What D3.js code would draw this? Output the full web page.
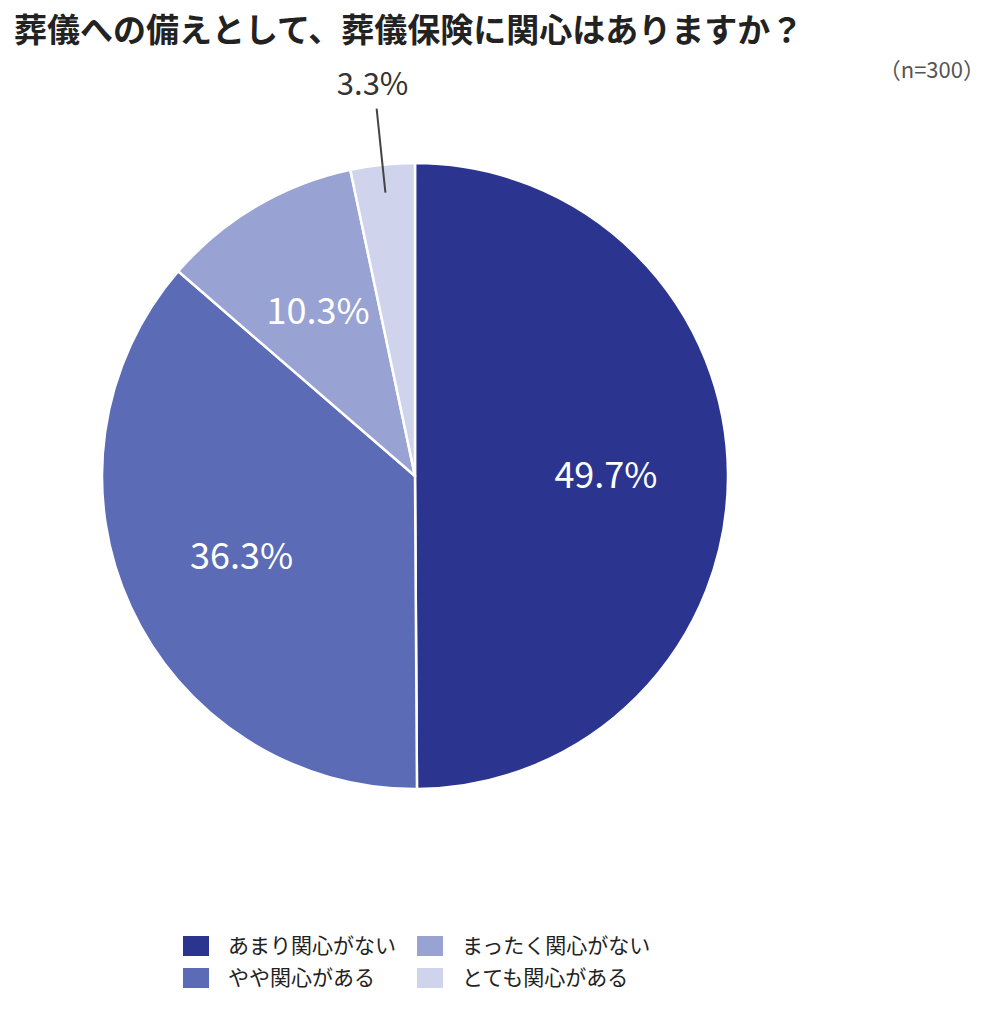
<!DOCTYPE html>
<html>
<head>
<meta charset="utf-8">
<script src="https://cdn.jsdelivr.net/npm/d3@7"></script>
<style>
  body { margin: 0; background: #fff; }
  svg { font-family: 'Noto Sans CJK JP', 'Noto Sans', sans-serif; }
</style>
</head>
<body>
<div id="chart"></div>
<script>
// data
const categories = ['あまり関心がない', 'やや関心がある', 'まったく関心がない', 'とても関心がある'];
const values = [49.7, 36.3, 10.3, 3.3];
const colors = ['#2b3590', '#5b6bb5', '#98a3d3', '#cfd3ec'];
const title = '葬儀への備えとして、葬儀保険に関心はありますか？';
const note = '（n=300）';

const width = 1000;
const height = 1016;
const cx = 415;
const cy = 476;
const radius = 313;

const svg = d3.select('#chart')
  .append('svg')
  .attr('width', width)
  .attr('height', height);

svg.append('text')
  .attr('x', 14)
  .attr('y', 42)
  .attr('font-size', 33)
  .attr('font-weight', 'bold')
  .attr('fill', '#222')
  .text(title);

svg.append('text')
  .attr('x', 985)
  .attr('y', 78)
  .attr('text-anchor', 'end')
  .attr('font-size', 22)
  .attr('fill', '#555')
  .text(note);

const color = d3.scaleOrdinal().domain(categories).range(colors);

const pie = d3.pie().sort(null).value((d) => d.value);
const arcs = pie(categories.map((c, i) => ({ name: c, value: values[i] })));

const arc = d3.arc().innerRadius(0).outerRadius(radius);

const g = svg.append('g').attr('transform', `translate(${cx},${cy})`);

g.selectAll('path')
  .data(arcs)
  .join('path')
  .attr('d', arc)
  .attr('fill', (d) => color(d.data.name))
  .attr('stroke', '#fff')
  .attr('stroke-width', 2.5)
  .attr('stroke-linejoin', 'round');

// inside labels (all but the small slice)
const labelArc = d3.arc().innerRadius(radius * 0.61).outerRadius(radius * 0.61);
const inside = arcs.filter((d) => d.data.value > 5);
g.selectAll('text.inside')
  .data(inside)
  .join('text')
  .attr('class', 'inside')
  .attr('transform', (d) => `translate(${labelArc.centroid(d)})`)
  .attr('text-anchor', 'middle')
  .attr('dy', '0.35em')
  .attr('font-size', 36)
  .attr('fill', '#fff')
  .text((d) => d.data.value.toFixed(1) + '%');

// outside label for small slice with leader line
const small = arcs.filter((d) => d.data.value <= 5);
const lineInner = d3.arc().innerRadius(radius * 0.91).outerRadius(radius * 0.91);
const lineOuter = d3.arc().innerRadius(radius * 1.18).outerRadius(radius * 1.18);
small.forEach((d) => {
  const p1 = lineInner.centroid(d);
  const p2 = lineOuter.centroid(d);
  g.append('line')
    .attr('x1', p1[0]).attr('y1', p1[1])
    .attr('x2', p2[0]).attr('y2', p2[1])
    .attr('stroke', '#444')
    .attr('stroke-width', 2);
  g.append('text')
    .attr('x', p2[0] - 4)
    .attr('y', p2[1] - 14)
    .attr('text-anchor', 'middle')
    .attr('font-size', 31)
    .attr('fill', '#333')
    .text(d.data.value.toFixed(1) + '%');
});

// legend
const legend = svg.append('g').attr('transform', 'translate(183,936)');
const item = legend.selectAll('g')
  .data(categories)
  .join('g')
  .attr('transform', (d, i) => `translate(${Math.floor(i / 2) * 234},${(i % 2) * 32})`);

item.append('rect')
  .attr('width', 26)
  .attr('height', 20)
  .attr('fill', (d) => color(d));

item.append('text')
  .attr('x', 45)
  .attr('y', 10)
  .attr('dy', '0.35em')
  .attr('font-size', 21)
  .attr('fill', '#222')
  .text((d) => d);
</script>
</body>
</html>
